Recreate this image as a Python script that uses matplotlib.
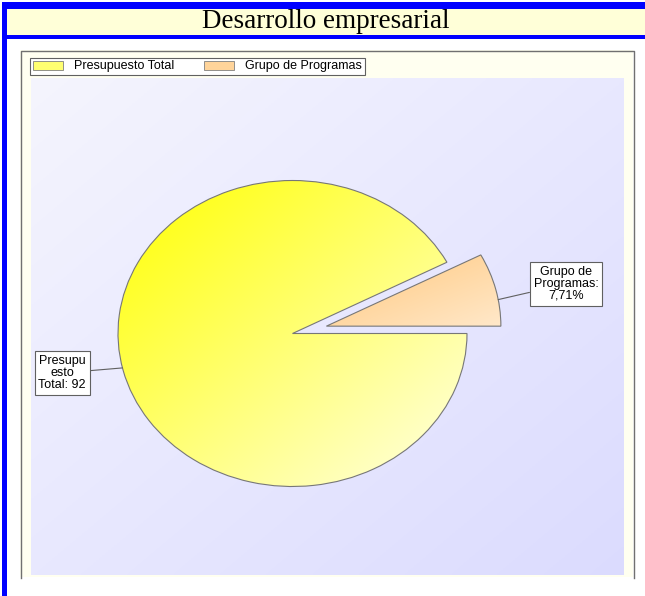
import numpy as np
import matplotlib
matplotlib.use("Agg")
import matplotlib.pyplot as plt
from matplotlib.patches import Rectangle, Patch

# data
categorias = ["Presupuesto Total", "Grupo de Programas"]
valores = [92.29, 7.71]
etiquetas = ["Presupu\nesto\nTotal: 92", "Grupo de\nProgramas:\n7,71%"]
titulo = "Desarrollo empresarial"

# gradient colours (start -> end) per slice
grad_ini = [(1.0, 1.0, 0.0), (1.0, 0.78, 0.48)]
grad_fin = [(1.0, 1.0, 0.90), (1.0, 0.91, 0.79)]
legend_cols = ["#FFFF70", "#FFD49A"]

W, H = 645, 596
fig = plt.figure(figsize=(W / 100, H / 100), dpi=100)
fig.patch.set_facecolor("white")

# background decorations in pixel coords
bg = fig.add_axes([0, 0, 1, 1])
bg.set_xlim(0, W)
bg.set_ylim(H, 0)
bg.axis("off")

bg.add_patch(Rectangle((2, 2), W, 7, color="#0000FF", lw=0))
bg.add_patch(Rectangle((2, 2), 5, H, color="#0000FF", lw=0))
bg.add_patch(Rectangle((7, 9), W, 26, color="#FFFFD8", lw=0))
bg.add_patch(Rectangle((7, 35), W, 3.5, color="#0000FF", lw=0))
bg.text(326, 22, titulo, ha="center", va="center", fontsize=19.5,
        family="Liberation Serif", color="black")

# chart panel
bg.add_patch(Rectangle((20, 50), 613, 527, color="#FFFFF0", lw=0))
bg.plot([20.5, 20.5, 633.5, 633.5], [578, 50.5, 50.5, 578], color="#707070", lw=1)

# plot area gradient
gx, gy = np.meshgrid(np.linspace(0, 1, 200), np.linspace(0, 1, 200))
t = (gx + gy) / 2
c0 = np.array([0.96, 0.96, 0.995])
c1 = np.array([0.86, 0.86, 1.0])
img = c0 + (c1 - c0) * t[..., None]
bg.imshow(img, extent=(31, 624, 575, 78), aspect="auto", zorder=1.5)

# pie axes: ellipse with rx, ry in pixels
cx, cy, rx, ry = 292.5, 333.5, 174.5, 153.0
lim = 1.3
ax = fig.add_axes([(cx - lim * rx) / W, (H - cy - lim * ry) / H,
                   2 * lim * rx / W, 2 * lim * ry / H])
ax.patch.set_alpha(0)

inicio = 360 * valores[1] / 100
wedges, _ = ax.pie(valores, startangle=inicio, explode=[0, 0.2],
                   wedgeprops=dict(facecolor="none", edgecolor="#777777", lw=0.8, zorder=3),
                   frame=False)
ax.set_aspect("auto")

for i, w in enumerate(wedges):
    verts = w.get_path().vertices
    x0, y0 = verts.min(axis=0)
    x1, y1 = verts.max(axis=0)
    n = 200
    gx, gy = np.meshgrid(np.linspace(0, 1, n), np.linspace(0, 1, n))
    tt = (gx + gy) / 2
    a = np.array(grad_ini[i])
    b = np.array(grad_fin[i])
    im = a + (b - a) * tt[..., None]
    art = ax.imshow(im, extent=(x0, x1, y0, y1), origin="upper",
                    aspect="auto", zorder=2)
    art.set_clip_path(w)
ax.set_xlim(-lim, lim)
ax.set_ylim(-lim, lim)

# labels
caja = dict(boxstyle="square,pad=0.3", fc="white", ec="#606060", lw=0.8)
linea = dict(arrowstyle="-", color="#606060", lw=0.8, shrinkA=0, shrinkB=0)

px = lambda x: (x - cx) / rx
py = lambda y: (cy - y) / ry

ang = np.deg2rad(193)
ax.annotate(etiquetas[0], xy=(np.cos(ang), np.sin(ang)), xytext=(px(62), py(373)),
            ha="center", va="center", fontsize=9, family="Liberation Sans",
            linespacing=1.0, bbox=caja, arrowprops=linea, annotation_clip=False, zorder=5)

ex, ey = wedges[1].center
ang = np.deg2rad(10)
ax.annotate(etiquetas[1], xy=(ex + np.cos(ang), ey + np.sin(ang)), xytext=(px(566), py(284)),
            ha="center", va="center", fontsize=9, family="Liberation Sans",
            linespacing=1.0, bbox=caja, arrowprops=linea, annotation_clip=False, zorder=5)

# legend
handles = [Patch(facecolor=legend_cols[i], edgecolor="#808080", lw=0.6) for i in range(2)]
leg = fig.legend(handles, categorias, loc="upper left", bbox_to_anchor=(30 / W, 1 - 58 / H),
                 ncol=2, prop=dict(family="Liberation Sans", size=9),
                 frameon=True, fancybox=False, edgecolor="#606060", framealpha=1,
                 handlelength=2.4, handleheight=0.7, handletextpad=0.9,
                 columnspacing=2.4, borderpad=0.2, borderaxespad=0)
leg.get_frame().set_linewidth(0.8)

fig.savefig("out.png", dpi=100)
